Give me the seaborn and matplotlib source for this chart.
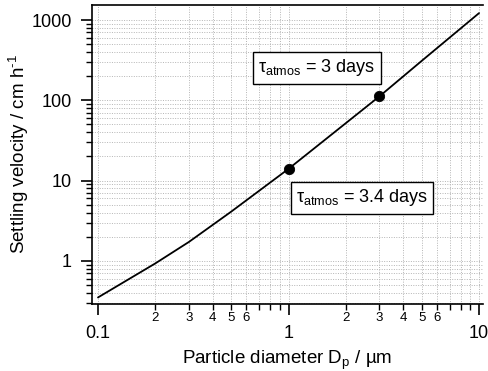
import numpy as np
import pandas as pd
import matplotlib
matplotlib.use("Agg")
import matplotlib.pyplot as plt
import matplotlib.ticker as mticker
import seaborn as sns

# Data
diameter_um = [0.1, 0.2, 0.3, 0.5, 1.0, 2.0, 3.0, 5.0, 10.0]
velocity_cm_h = [0.35, 0.93, 1.72, 4.1, 14.0, 52.0, 112.0, 310.0, 1220.0]
marker_x = [1.0, 3.0]
marker_y = [14.0, 112.0]
annot_texts = [r"$\mathregular{\tau_{atmos}}$ = 3 days", r"$\mathregular{\tau_{atmos}}$ = 3.4 days"]

sns.set_style("ticks")
plt.rcParams['font.family'] = ['Liberation Sans', 'DejaVu Sans']
plt.rcParams['mathtext.fontset'] = 'custom'
plt.rcParams['mathtext.rm'] = 'Liberation Sans'
plt.rcParams['mathtext.it'] = 'Liberation Sans'
for k in ['text.color', 'axes.labelcolor', 'xtick.color', 'ytick.color', 'axes.edgecolor']:
    plt.rcParams[k] = 'black'

fig = plt.figure(figsize=(4.88, 3.71), dpi=100)
ax = fig.add_axes([92/488, 1-304/371, (483-92)/488, (304-5)/371])

df = pd.DataFrame({"d": diameter_um, "v": velocity_cm_h})
sns.lineplot(data=df, x="d", y="v", ax=ax, color="black", linewidth=1.3)
sns.scatterplot(x=marker_x, y=marker_y, ax=ax, color="black", s=55, zorder=5, edgecolor="black")

ax.set_xscale("log")
ax.set_yscale("log")
ax.set_xlim(0.0930, 10.49)
ax.set_ylim(0.29, 1540)

ax.xaxis.set_major_locator(mticker.LogLocator(base=10, numticks=10))
ax.xaxis.set_minor_locator(mticker.LogLocator(base=10, subs=np.arange(2, 10), numticks=20))
ax.yaxis.set_major_locator(mticker.LogLocator(base=10, numticks=10))
ax.yaxis.set_minor_locator(mticker.LogLocator(base=10, subs=np.arange(2, 10), numticks=20))

def major_fmt(v, pos):
    return "%g" % v

def minor_fmt(v, pos):
    m = v / 10 ** np.floor(np.log10(v) + 1e-9)
    m = int(round(m))
    return str(m) if 2 <= m <= 6 else ""

ax.xaxis.set_major_formatter(mticker.FuncFormatter(major_fmt))
ax.xaxis.set_minor_formatter(mticker.FuncFormatter(minor_fmt))
ax.yaxis.set_major_formatter(mticker.FuncFormatter(major_fmt))
ax.yaxis.set_minor_formatter(mticker.NullFormatter())

ax.tick_params(axis="x", which="major", direction="out", length=8, width=1.2, labelsize=13, pad=7)
ax.tick_params(axis="x", which="minor", direction="out", length=4, width=1.0, labelsize=9.5, pad=2)
ax.tick_params(axis="y", which="major", direction="out", length=8, width=1.2, labelsize=13, pad=6.5)
ax.tick_params(axis="y", which="minor", direction="out", length=4, width=1.0)

ax.grid(True, which="both", color="#b5b5b5", linestyle=(0, (1, 1.5)), linewidth=0.7)
ax.set_axisbelow(True)

for s in ["left", "bottom", "top"]:
    ax.spines[s].set_linewidth(1.2)
    ax.spines[s].set_color("black")
ax.spines["right"].set_visible(False)

ax.set_xlabel(r"Particle diameter D$\mathregular{_p}$ / µm", fontsize=13.5, labelpad=5)
ax.set_ylabel("Settling velocity / cm h$\\mathregular{^{\u20101}}$", fontsize=13.5, labelpad=0)

box = dict(boxstyle="square,pad=0.3", facecolor="white", edgecolor="black", linewidth=1.0)
ax.text((317-92)/391, (304-68)/299, annot_texts[0], transform=ax.transAxes,
        ha="center", va="center", fontsize=13, bbox=box, zorder=6)
ax.text((362-92)/391, (304-198)/299, annot_texts[1], transform=ax.transAxes,
        ha="center", va="center", fontsize=13, bbox=box, zorder=6)

fig.savefig("out.png", dpi=100)
